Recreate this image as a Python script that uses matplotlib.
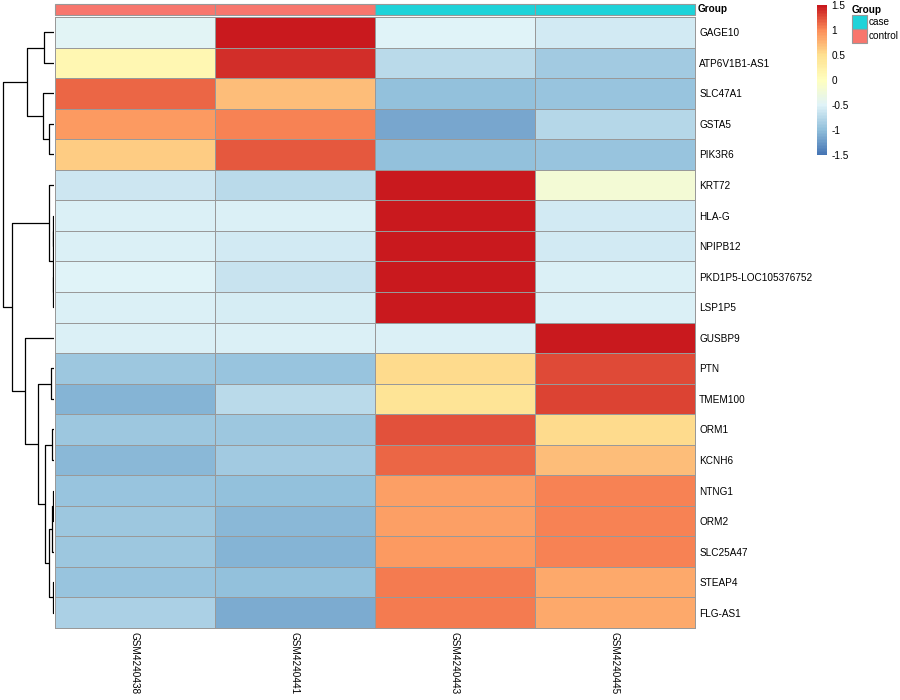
import numpy as np
import matplotlib
matplotlib.use('Agg')
import matplotlib.pyplot as plt
from matplotlib.colors import LinearSegmentedColormap
from matplotlib.patches import Rectangle

genes = ['GAGE10', 'ATP6V1B1-AS1', 'SLC47A1', 'GSTA5', 'PIK3R6', 'KRT72', 'HLA-G',
         'NPIPB12', 'PKD1P5-LOC105376752', 'LSP1P5', 'GUSBP9', 'PTN', 'TMEM100',
         'ORM1', 'KCNH6', 'NTNG1', 'ORM2', 'SLC25A47', 'STEAP4', 'FLG-AS1']
samples = ['GSM4240438', 'GSM4240441', 'GSM4240443', 'GSM4240445']
groups = ['control', 'control', 'case', 'case']

# row-scaled expression (z-scores), one list per sample
gsm438 = [-0.47, 0.15, 1.15, 0.9, 0.61, -0.62, -0.52, -0.52, -0.5, -0.52,
          -0.52, -0.92, -1.07, -0.92, -1.05, -0.93, -0.92, -0.92, -0.93, -0.84]
gsm441 = [1.5, 1.38, 0.69, 1.03, 1.22, -0.75, -0.54, -0.58, -0.65, -0.57,
          -0.52, -0.94, -0.75, -0.92, -0.9, -0.99, -1.04, -1.07, -0.99, -1.11]
gsm443 = [-0.49, -0.75, -0.99, -1.15, -0.99, 1.5, 1.5, 1.5, 1.5, 1.5,
          -0.52, 0.52, 0.44, 1.24, 1.15, 0.87, 0.88, 0.9, 1.07, 1.07]
gsm445 = [-0.58, -0.9, -0.93, -0.78, -0.93, -0.2, -0.6, -0.58, -0.52, -0.52,
          1.5, 1.26, 1.3, 0.52, 0.69, 1.04, 1.03, 1.03, 0.84, 0.84]

# row dendrogram: (left, right, height); new nodes are numbered from 20
row_merges = [(0, 1, 0.19), (3, 4, 0.09), (2, 21, 0.21), (20, 22, 0.53),
              (6, 7, 0.015), (8, 9, 0.015), (24, 25, 0.022), (5, 26, 0.09),
              (11, 12, 0.06), (13, 14, 0.03), (15, 16, 0.01), (30, 17, 0.03),
              (18, 19, 0.015), (31, 32, 0.1), (29, 33, 0.175), (28, 34, 0.31),
              (10, 35, 0.57), (27, 36, 0.82), (23, 37, 1.0)]

group_colors = {'case': '#1ED3D9', 'control': '#F8766D'}

plt.rcParams['font.family'] = ['Liberation Sans', 'DejaVu Sans']
plt.rcParams['axes.unicode_minus'] = False

W, H = 900, 700
fig = plt.figure(figsize=(9, 7), dpi=100)


def box(x0, y0, x1, y1):
    return [x0 / W, 1 - y1 / H, (x1 - x0) / W, (y1 - y0) / H]


grid = '#999999'
fs = 7.2

# heatmap
ax = fig.add_axes(box(55, 17, 695, 628))
mat = np.array([gsm438, gsm441, gsm443, gsm445]).T
cmap = LinearSegmentedColormap.from_list(
    'rdylbu', ['#4575B4', '#91BFDB', '#E0F3F8', '#FFFFBF', '#FEE090', '#FC8D59', '#C9191E'], N=100)
mesh = ax.pcolormesh(mat, cmap=cmap, vmin=-1.5, vmax=1.5, edgecolors=grid, linewidth=0.72)
mesh.set_clip_on(False)
ax.set_xlim(0, len(samples))
ax.set_ylim(len(genes), 0)
ax.set_yticks(np.arange(len(genes)) + 0.5, genes)
ax.yaxis.tick_right()
ax.set_xticks(np.arange(len(samples)) + 0.5, samples, rotation=270)
ax.tick_params(length=0, labelsize=fs, pad=3)
for s in ax.spines.values():
    s.set_visible(False)

# group annotation bar
aax = fig.add_axes(box(55, 4, 695, 15))
bars = aax.bar(np.arange(len(groups)), 1, width=1, align='edge',
               color=[group_colors[g] for g in groups], edgecolor=grid, linewidth=0.8)
for b in bars:
    b.set_clip_on(False)
aax.set_xlim(0, len(groups))
aax.set_ylim(0, 1)
aax.axis('off')
aax.text(1 + 3 / 640, 0.5, 'Group', transform=aax.transAxes, fontsize=fs,
         fontweight='bold', va='center', ha='left')

# row dendrogram
dax = fig.add_axes(box(0, 17, 54, 628))
n = len(genes)
pos = {i: (0.0, i + 0.5) for i in range(n)}
for k, (a, b, h) in enumerate(row_merges):
    xa, ya = pos[a]
    xb, yb = pos[b]
    dax.plot([xa, h, h, xb], [ya, ya, yb, yb], color='black', lw=0.9, solid_capstyle='butt')
    pos[n + k] = (h, (ya + yb) / 2)
top = max(m[2] for m in row_merges)
dax.set_xlim(top * 54 / 51.3, 0)
dax.set_ylim(n, 0)
dax.axis('off')

# colour legend
cax = fig.add_axes(box(817, 5, 827, 155))
ticks = [-1.5, -1, -0.5, 0, 0.5, 1, 1.5]
cb = fig.colorbar(mesh, cax=cax, ticks=ticks)
cb.set_ticklabels(['-1.5', '-1', '-0.5', '0', '0.5', '1', '1.5'])
cb.outline.set_visible(False)
cax.tick_params(length=0, labelsize=fs, pad=3)

# group legend
fig.text(852 / W, 1 - 10 / H, 'Group', fontsize=fs, fontweight='bold', va='center', ha='left')
for i, g in enumerate(['case', 'control']):
    y0 = 15 + i * 14
    fig.add_artist(Rectangle((852 / W, 1 - (y0 + 14) / H), 15 / W, 14 / H,
                             facecolor=group_colors[g], edgecolor=grid, lw=0.8,
                             transform=fig.transFigure))
    fig.text(869 / W, 1 - (y0 + 7) / H, g, fontsize=fs, va='center', ha='left')

fig.savefig('out.png', dpi=100)
